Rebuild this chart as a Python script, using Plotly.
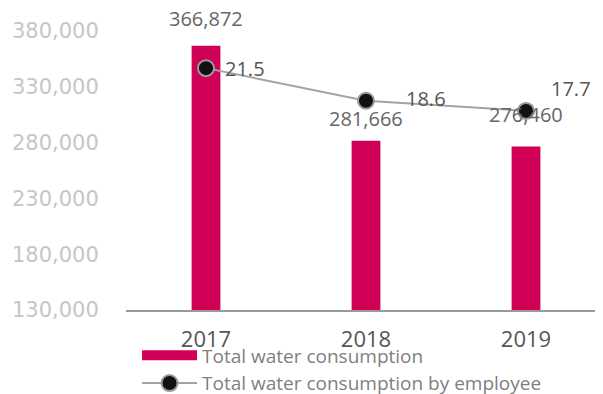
import plotly.graph_objects as go

years = ["2017", "2018", "2019"]
water = [366872, 281666, 276460]
per_employee = [21.5, 18.6, 17.7]
water_labels = ["366,872", "281,666", "276,460"]
emp_labels = ["21.5", "18.6", "17.7"]
y_ticks = [130000, 180000, 230000, 280000, 330000, 380000]

FONT = "Open Sans"
MAGENTA = "#D10057"
fig = go.Figure()
fig.add_trace(go.Bar(
    x=years, y=water, name="Total water consumption", showlegend=False,
    legendgroup="w",
    marker=dict(color=MAGENTA, line=dict(width=0)), width=0.18,
))
# legend entry for the bars (wide swatch)
fig.add_trace(go.Scatter(
    x=[None], y=[None], name="Total water consumption", mode="lines",
    legendgroup="w", line=dict(color=MAGENTA, width=13),
))
fig.add_trace(go.Scatter(
    x=years, y=per_employee, name="Total water consumption by employee",
    yaxis="y2", mode="lines+markers",
    line=dict(color="#a3a3a3", width=2),
    marker=dict(color="#111111", size=16, line=dict(color="#9a9a9a", width=2)),
))

# bar value labels (x given as category index)
bar_shift = [27, 22, 32]
for i, (yv, t, s) in enumerate(zip(water, water_labels, bar_shift)):
    fig.add_annotation(x=i, y=yv, text=t, showarrow=False, yshift=s,
                       font=dict(family=FONT, size=20, color="#666666"))
# line value labels
shifts = [(39, 0), (60, 2), (45, 22)]
for i, (yv, t, (dx, dy)) in enumerate(zip(per_employee, emp_labels, shifts)):
    fig.add_annotation(x=i, y=yv, yref="y2", text=t, showarrow=False,
                       xshift=dx, yshift=dy,
                       font=dict(family=FONT, size=20, color="#555555"))

fig.update_layout(
    width=603, height=394,
    margin=dict(l=118, r=5, t=23, b=92, autoexpand=False),
    paper_bgcolor="white", plot_bgcolor="white",
    font=dict(family=FONT),
    xaxis=dict(type="category", range=[-0.5, 2.5], showgrid=False, showline=True,
               linecolor="#9a9a9a", linewidth=1.5,
               ticks="outside", ticklen=9, tickcolor="rgba(0,0,0,0)",
               tickfont=dict(size=22, color="#555555"), automargin=False),
    yaxis=dict(range=[130000, 380000], tickvals=y_ticks, tickformat=",",
               showgrid=False, zeroline=False, showline=False,
               ticks="outside", ticklen=22, tickcolor="rgba(0,0,0,0)",
               tickfont=dict(family="DejaVu Sans", size=21, color="#c6c6c6"),
               automargin=False),
    yaxis2=dict(range=[0, 24.8], overlaying="y", side="right", visible=False),
    showlegend=True,
    legend=dict(x=0.023, y=-0.095,
                xanchor="left", yanchor="top", bgcolor="rgba(0,0,0,0)",
                font=dict(family=FONT, size=19, color="#808080"),
                itemwidth=55, tracegroupgap=0),
)
fig.write_html("out.html")
